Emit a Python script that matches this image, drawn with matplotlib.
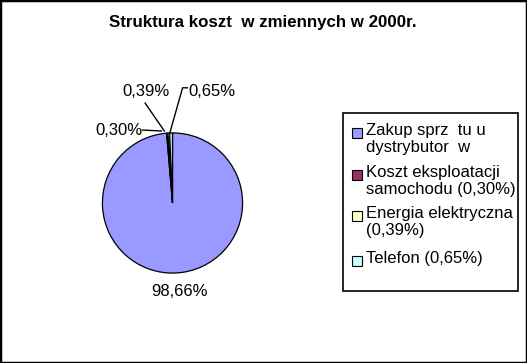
import matplotlib
matplotlib.use("Agg")
import matplotlib.pyplot as plt
from matplotlib.patches import Rectangle

plt.rcParams['font.family'] = ['Liberation Sans', 'DejaVu Sans']

title = "Struktura koszt  w zmiennych w 2000r."
categories = ["Zakup sprz  tu u\ndystrybutor  w",
              "Koszt eksploatacji\nsamochodu (0,30%)",
              "Energia elektryczna\n(0,39%)",
              "Telefon (0,65%)"]
values = [98.66, 0.30, 0.39, 0.65]
pct_labels = ["98,66%", "0,30%", "0,39%", "0,65%"]
colors = ["#9999FF", "#993366", "#FFFFCC", "#CCFFFF"]

W, H = 527, 363
fig = plt.figure(figsize=(W / 100, H / 100), dpi=100)

# border
fig.patches.append(Rectangle((0, 0), 1, 1, transform=fig.transFigure,
                             fill=False, edgecolor='black', linewidth=2.5))

fig.text(263 / W, 1 - 22 / H, title, ha='center', va='center',
         fontsize=12.2, fontweight='bold')

# pie axes: center (172.5, 203) px, radius 73 px
cx, cy, r = 172.5, 203, 73
half = 1.2 * r
ax = fig.add_axes([(cx - half) / W, (H - cy - half) / H, 2 * half / W, 2 * half / H])
ax.set_xlim(-1.2, 1.2)
ax.set_ylim(-1.2, 1.2)
ax.set_aspect('equal')
ax.axis('off')

wedges, _ = ax.pie(values, colors=colors, startangle=90, counterclock=False,
                   radius=1, wedgeprops=dict(edgecolor='black', linewidth=0.9))

def d(px, py):
    return ((px - cx) / r, (cy - py) / r)

fs = 12
# 98,66%
ax.text(*d(180, 295), pct_labels[0], ha='center', va='center', fontsize=fs)
# 0,30%
ax.text(*d(141, 127), pct_labels[1], ha='right', va='center', fontsize=fs)
ax.plot(*zip(d(141, 127), d(161, 128)), color='black', lw=1, clip_on=False)
# 0,39%
ax.text(*d(145, 87), pct_labels[2], ha='center', va='center', fontsize=fs)
ax.plot(*zip(d(144, 99), d(164, 128)), color='black', lw=1, clip_on=False)
# 0,65%
ax.text(*d(189, 87), pct_labels[3], ha='left', va='center', fontsize=fs)
ax.plot(*zip(d(188, 83), d(183, 83), d(170, 129)), color='black', lw=1, clip_on=False)

# legend (manual)
lx0, ly0, lx1, ly1 = 343, 113, 518, 291
fig.patches.append(Rectangle((lx0 / W, 1 - ly1 / H), (lx1 - lx0) / W, (ly1 - ly0) / H,
                             transform=fig.transFigure, facecolor='white',
                             edgecolor='black', linewidth=1.2))
entry_y = [133, 175, 216, 261]
for i, (lab, col) in enumerate(zip(categories, colors)):
    y = entry_y[i]
    fig.patches.append(Rectangle((352 / W, 1 - (y + 5) / H), 10 / W, 10 / H,
                                 transform=fig.transFigure, facecolor=col,
                                 edgecolor='black', linewidth=0.8))
    fig.text(366 / W, 1 - (y - 10) / H, lab, ha='left', va='top', fontsize=fs,
             linespacing=1.18)

fig.savefig("out.png", dpi=100)
